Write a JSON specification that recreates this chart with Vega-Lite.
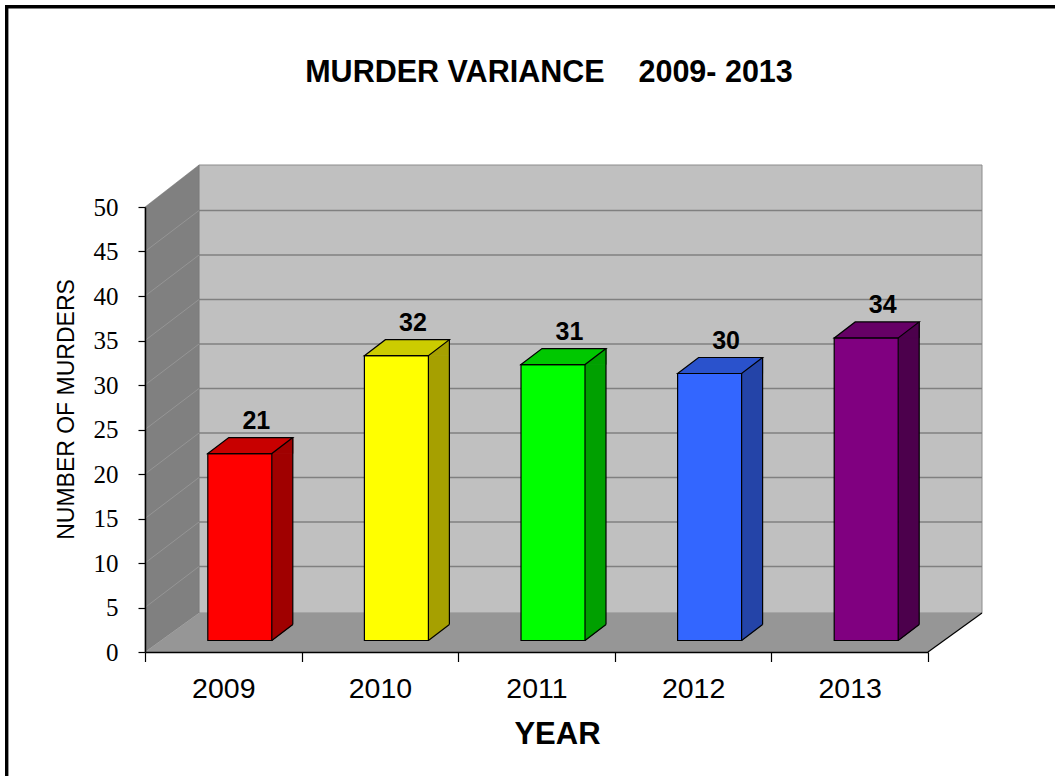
{
  "$schema": "https://vega.github.io/schema/vega-lite/v6.json",
  "width": 783,
  "height": 445,
  "autosize": {"type": "none"},
  "padding": {"left": 145, "top": 207, "right": 127, "bottom": 124},
  "background": "white",
  "config": {"view": {"stroke": null}, "font": "Liberation Sans"},
  "title": {
    "text": "MURDER VARIANCE\u00a0\u00a0\u00a0\u00a02009- 2013",
    "frame": "group",
    "anchor": "middle",
    "dx": 12.5,
    "offset": -107,
    "baseline": "alphabetic",
    "font": "Liberation Sans",
    "fontSize": 30.5,
    "fontWeight": "bold",
    "color": "#000000"
  },
  "datasets": {
    "murders": [
      {"year": "2009", "murders": 21},
      {"year": "2010", "murders": 32},
      {"year": "2011", "murders": 31},
      {"year": "2012", "murders": 30},
      {"year": "2013", "murders": 34}
    ],
    "grid": [{"v": 5}, {"v": 10}, {"v": 15}, {"v": 20}, {"v": 25}, {"v": 30}, {"v": 35}, {"v": 40}, {"v": 45}],
    "one": [{"k": 1}]
  },
  "data": {"name": "murders"},
  "resolve": {"scale": {"fill": "independent", "stroke": "independent", "color": "independent"}},
  "layer": [
    {
      "data": {"name": "one"},
      "mark": {"type": "rect", "filled": false, "stroke": "#000000", "strokeWidth": 3.4},
      "encoding": {"x": {"value": -138.3}, "y": {"value": -200.3}, "x2": {"value": 930}, "y2": {"value": 590}}
    },
    {
      "data": {"name": "one"},
      "mark": {"type": "rect", "fill": "#C0C0C0", "stroke": "#8c8c8c", "strokeWidth": 1, "xOffset": 54, "x2Offset": 54, "yOffset": -42, "y2Offset": -39},
      "encoding": {"x": {"value": 0}, "x2": {"value": "width"}, "y": {"datum": 50, "type": "quantitative"}, "y2": {"datum": 0}}
    },
    {
      "data": {"name": "grid"},
      "mark": {"type": "rule", "stroke": "#808080", "strokeWidth": 1.5, "xOffset": 54, "x2Offset": 54, "yOffset": -41},
      "encoding": {"x": {"value": 0}, "x2": {"value": "width"}, "y": {"field": "v", "type": "quantitative"}}
    },
    {
      "data": {"name": "one"},
      "mark": {"type": "point", "shape": "M0,0L0,-445L54,-487L54,-39Z", "size": 4, "filled": true, "fill": "#808080", "stroke": "#747474", "strokeWidth": 0.5, "opacity": 1},
      "encoding": {"x": {"value": 0}, "y": {"datum": 0, "type": "quantitative"}}
    },
    {
      "data": {"name": "grid"},
      "mark": {"type": "rule", "stroke": "#959595", "strokeWidth": 1, "x2Offset": 54, "y2Offset": -41},
      "encoding": {"x": {"value": 0}, "x2": {"value": 0}, "y": {"field": "v", "type": "quantitative"}, "y2": {"field": "v"}}
    },
    {
      "data": {"name": "one"},
      "mark": {"type": "point", "shape": "M0,0L54,-39L837,-39L783,0Z", "size": 4, "filled": true, "fill": "#969696", "strokeWidth": 0, "opacity": 1},
      "encoding": {"x": {"value": 0}, "y": {"datum": 0, "type": "quantitative"}}
    },
    {
      "data": {"name": "one"},
      "mark": {"type": "point", "shape": "M783,0L837,-39", "size": 4, "filled": false, "stroke": "#000000", "strokeWidth": 1.2, "opacity": 1},
      "encoding": {"x": {"value": 0}, "y": {"datum": 0, "type": "quantitative"}}
    },
    {
      "mark": {"type": "bar", "width": 21, "xOffset": 59, "yOffset": -11.5, "y2Offset": -27.5},
      "encoding": {
        "x": {
          "field": "year", "type": "ordinal",
          "scale": {"paddingInner": 0, "paddingOuter": 0},
          "axis": {
            "title": "YEAR", "titleFont": "Liberation Sans", "titleFontSize": 31, "titleFontWeight": "bold", "titleColor": "#000000",
            "titleX": 412, "titleY": 91, "titleBaseline": "alphabetic", "titleAlign": "center", "titleAnchor": null,
            "labelFont": "Liberation Sans", "labelFontSize": 28.5, "labelColor": "#000000", "labelAngle": 0, "labelBaseline": "alphabetic", "labelPadding": 35.5,
            "tickBand": "extent", "tickSize": 9.5, "tickColor": "#000000", "tickWidth": 1.2, "domainColor": "#000000", "domainWidth": 1.5, "zindex": 1
          }
        },
        "y": {
          "field": "murders", "type": "quantitative",
          "scale": {"domain": [0, 50], "nice": false},
          "axis": {
            "title": "NUMBER OF MURDERS", "titleFont": "Liberation Sans", "titleFontSize": 23, "titleFontWeight": "normal", "titleColor": "#000000",
            "titleX": -79, "titleY": 202, "titleAngle": 270, "titleAlign": "center", "titleBaseline": "middle",
            "labelFont": "Liberation Serif", "labelFontSize": 25, "labelColor": "#000000", "labelPadding": 20,
            "tickSize": 7, "tickColor": "#000000", "tickWidth": 1.2, "domainColor": "#000000", "domainWidth": 1.5,
            "values": [0, 5, 10, 15, 20, 25, 30, 35, 40, 45, 50], "grid": false, "zindex": 1
          }
        },
        "y2": {"datum": 0},
        "fill": {"field": "year", "type": "ordinal", "scale": {"range": ["#A00000", "#A6A000", "#00A000", "#2444A8", "#4C004C"]}, "legend": null}
      }
    },
    {
      "mark": {"type": "point", "shape": "M32,0L53,-16L53,0Z", "size": 4, "filled": true, "strokeWidth": 1, "opacity": 1, "xOffset": 16.5, "yOffset": -11.5},
      "encoding": {
        "x": {"field": "year", "type": "ordinal"},
        "y": {"field": "murders", "type": "quantitative"},
        "fill": {"field": "year", "type": "ordinal", "scale": {"range": ["#A00000", "#A6A000", "#00A000", "#2444A8", "#4C004C"]}, "legend": null},
        "stroke": {"field": "year", "type": "ordinal", "scale": {"range": ["#A00000", "#A6A000", "#00A000", "#2444A8", "#4C004C"]}, "legend": null}
      }
    },
    {
      "mark": {"type": "point", "shape": "M32,0L32,-16L53,-16Z", "size": 4, "filled": true, "strokeWidth": 1, "opacity": 1, "xOffset": 16.5, "yOffset": -11.5},
      "encoding": {
        "x": {"field": "year", "type": "ordinal"},
        "y": {"datum": 0, "type": "quantitative"},
        "fill": {"field": "year", "type": "ordinal", "scale": {"range": ["#A00000", "#A6A000", "#00A000", "#2444A8", "#4C004C"]}, "legend": null},
        "stroke": {"field": "year", "type": "ordinal", "scale": {"range": ["#A00000", "#A6A000", "#00A000", "#2444A8", "#4C004C"]}, "legend": null}
      }
    },
    {
      "mark": {"type": "bar", "width": 64, "xOffset": 16.5, "yOffset": -11.5, "y2Offset": -11.5, "stroke": "#000000", "strokeWidth": 1.2},
      "encoding": {
        "x": {"field": "year", "type": "ordinal"},
        "y": {"field": "murders", "type": "quantitative"},
        "y2": {"datum": 0},
        "fill": {"field": "year", "type": "ordinal", "scale": {"range": ["#FF0000", "#FFFF00", "#00FF00", "#3366FF", "#800080"]}, "legend": null}
      }
    },
    {
      "mark": {"type": "point", "shape": "M-32,0L-11,-16L53,-16L32,0Z", "size": 4, "filled": true, "stroke": "#000000", "strokeWidth": 1.2, "opacity": 1, "xOffset": 16.5, "yOffset": -11.5},
      "encoding": {
        "x": {"field": "year", "type": "ordinal"},
        "y": {"field": "murders", "type": "quantitative"},
        "fill": {"field": "year", "type": "ordinal", "scale": {"range": ["#C80000", "#CCCC00", "#00C800", "#2A52CC", "#660066"]}, "legend": null}
      }
    },
    {
      "mark": {"type": "rule", "stroke": "#000000", "strokeWidth": 1.2, "xOffset": 69.5, "yOffset": -27.5, "y2Offset": -27.5},
      "encoding": {
        "x": {"field": "year", "type": "ordinal"},
        "y": {"field": "murders", "type": "quantitative"},
        "y2": {"datum": 0}
      }
    },
    {
      "mark": {"type": "point", "shape": "M32,0L53,-16", "size": 4, "filled": false, "stroke": "#000000", "strokeWidth": 1.2, "opacity": 1, "xOffset": 16.5, "yOffset": -11.5},
      "encoding": {
        "x": {"field": "year", "type": "ordinal"},
        "y": {"datum": 0, "type": "quantitative"}
      }
    },
    {
      "mark": {"type": "text", "font": "Liberation Sans", "fontSize": 25, "fontWeight": "bold", "color": "#000000", "align": "center", "baseline": "middle", "xOffset": 33, "yOffset": -44},
      "encoding": {
        "x": {"field": "year", "type": "ordinal"},
        "y": {"field": "murders", "type": "quantitative"},
        "text": {"field": "murders", "type": "quantitative"}
      }
    }
  ]
}
